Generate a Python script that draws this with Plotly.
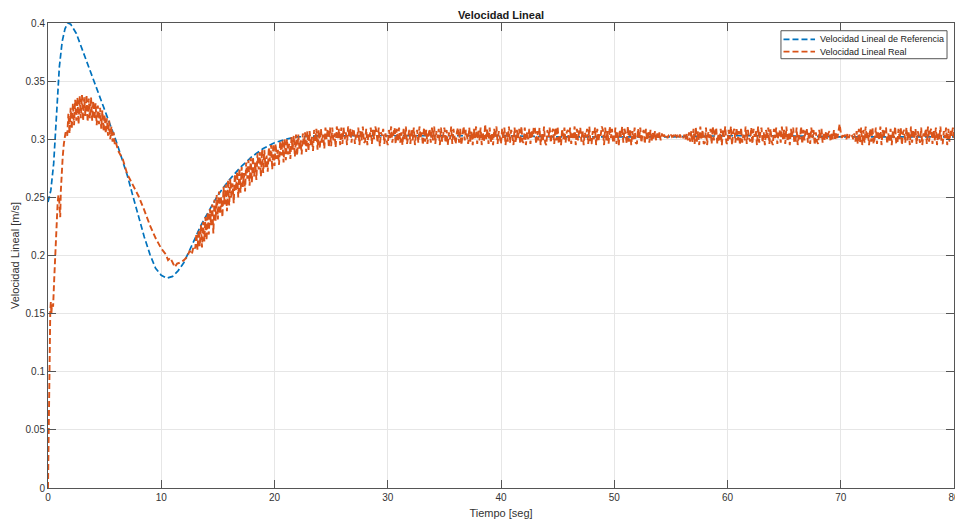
import numpy as np
import plotly.graph_objects as go

# ---------------- data ----------------
# Reference linear velocity (m/s) vs time (s)
ref_t = [0, 0.25, 0.5, 0.75, 1.0, 1.25, 1.5, 1.75, 2.0, 2.5, 3.0, 3.5, 4.0, 4.5,
         5.0, 5.5, 6.0, 6.5, 7.0, 7.5, 8.0, 8.5, 9.0, 9.5, 10.0, 10.5, 11.0,
         11.5, 12.0, 12.5, 13.0, 13.5, 14.0, 14.5, 15.0, 16.0, 17.0, 18.0,
         19.0, 20.0, 21.0, 22.0, 24.0, 26.0, 30.0, 35.0, 40.0, 45.0, 50.0,
         55.0, 60.0, 65.0, 70.0, 75.0, 80.0]
ref_v = [0.246, 0.256, 0.279, 0.322, 0.362, 0.384, 0.395, 0.400, 0.399, 0.391,
         0.378, 0.365, 0.352, 0.339, 0.326, 0.313, 0.299, 0.284, 0.269, 0.251,
         0.233, 0.216, 0.201, 0.189, 0.183, 0.1805, 0.182, 0.187, 0.194, 0.204,
         0.215, 0.226, 0.235, 0.244, 0.252, 0.265, 0.276, 0.285, 0.292, 0.297,
         0.300, 0.302, 0.303, 0.303, 0.303, 0.303, 0.303, 0.302, 0.302, 0.302,
         0.303, 0.303, 0.302, 0.302, 0.302]

# Measured velocity: start-up transient
real_t_start = [0, 0.05, 0.1, 0.15, 0.2, 0.25, 0.3, 0.35, 0.45, 0.55, 0.65,
                0.75, 0.85, 0.92, 0.98, 1.03, 1.08, 1.13, 1.2, 1.3, 1.4, 1.55]
real_v_start = [0.0, 0.050, 0.100, 0.145, 0.152, 0.160, 0.150, 0.158, 0.156,
                0.180, 0.205, 0.225, 0.245, 0.252, 0.250, 0.240, 0.233, 0.255,
                0.272, 0.285, 0.296, 0.306]

# Measured velocity: ripple around the first peak, sampled every 0.1 s from 1.7 s
ripple1_start = 1.7
ripple1_step = 0.1
ripple1_v = [0.303, 0.322, 0.305, 0.327, 0.309, 0.331, 0.312, 0.334, 0.316, 0.336,
             0.313, 0.337, 0.318, 0.338, 0.316, 0.336, 0.320, 0.338, 0.315, 0.335,
             0.318, 0.336, 0.316, 0.333, 0.317, 0.331, 0.312, 0.329, 0.313, 0.327,
             0.309, 0.325, 0.307, 0.321, 0.305, 0.318, 0.303, 0.316, 0.300, 0.311,
             0.298, 0.306, 0.295, 0.297]

# Measured velocity: smooth descent through the valley
real_t_mid = [6.2, 6.6, 7.0, 7.5, 8.0, 8.5, 9.0, 9.5, 10.0, 10.4, 10.6, 10.8,
              11.0, 11.2, 11.4, 11.7, 12.0, 12.3, 12.5, 12.7, 12.85]
real_v_mid = [0.290, 0.283, 0.270, 0.261, 0.251, 0.239, 0.226, 0.215, 0.206,
              0.201, 0.196, 0.198, 0.194, 0.190, 0.193, 0.194, 0.196, 0.199,
              0.204, 0.201, 0.208]

# Measured velocity: ripple from 13 s to 80 s, sampled every 0.1 s (one row per second)
ripple2_start = 13.0
ripple2_step = 0.1
ripple2_v = [
    0.206, 0.219, 0.205, 0.222, 0.208, 0.226, 0.207, 0.229, 0.212, 0.233,   # 13
    0.213, 0.237, 0.218, 0.240, 0.226, 0.244, 0.219, 0.248, 0.230, 0.252,   # 14
    0.231, 0.255, 0.236, 0.250, 0.233, 0.259, 0.244, 0.261, 0.238, 0.265,   # 15
    0.243, 0.266, 0.249, 0.262, 0.245, 0.270, 0.256, 0.272, 0.250, 0.275,   # 16
    0.254, 0.276, 0.259, 0.271, 0.255, 0.280, 0.266, 0.282, 0.260, 0.284,   # 17
    0.263, 0.285, 0.268, 0.280, 0.265, 0.288, 0.274, 0.289, 0.268, 0.291,   # 18
    0.271, 0.291, 0.276, 0.286, 0.272, 0.293, 0.281, 0.295, 0.274, 0.296,   # 19
    0.277, 0.296, 0.283, 0.291, 0.278, 0.298, 0.286, 0.299, 0.280, 0.300,   # 20
    0.282, 0.300, 0.287, 0.296, 0.283, 0.302, 0.291, 0.303, 0.285, 0.304,   # 21
    0.286, 0.304, 0.292, 0.299, 0.287, 0.305, 0.295, 0.306, 0.289, 0.307,   # 22
    0.290, 0.307, 0.295, 0.302, 0.290, 0.308, 0.298, 0.309, 0.291, 0.308,   # 23
    0.292, 0.309, 0.297, 0.304, 0.292, 0.310, 0.300, 0.309, 0.293, 0.310,   # 24
    0.294, 0.310, 0.299, 0.305, 0.293, 0.311, 0.301, 0.309, 0.295, 0.310,   # 25
    0.296, 0.310, 0.300, 0.306, 0.295, 0.311, 0.302, 0.309, 0.297, 0.308,   # 26
    0.309, 0.296, 0.304, 0.301, 0.310, 0.295, 0.307, 0.299, 0.311, 0.297,   # 27
    0.298, 0.309, 0.295, 0.305, 0.302, 0.310, 0.296, 0.308, 0.300, 0.311,   # 28
    0.307, 0.297, 0.310, 0.294, 0.306, 0.303, 0.309, 0.296, 0.305, 0.299,   # 29
    0.295, 0.308, 0.301, 0.311, 0.297, 0.304, 0.310, 0.296, 0.309, 0.298,   # 30
    0.310, 0.297, 0.306, 0.295, 0.309, 0.300, 0.311, 0.296, 0.303, 0.308,   # 31
    0.296, 0.309, 0.299, 0.310, 0.295, 0.305, 0.308, 0.297, 0.311, 0.301,   # 32
    0.306, 0.295, 0.310, 0.298, 0.308, 0.296, 0.304, 0.309, 0.297, 0.310,   # 33
    0.299, 0.311, 0.296, 0.307, 0.301, 0.309, 0.295, 0.310, 0.298, 0.305,   # 34
    0.310, 0.297, 0.308, 0.295, 0.306, 0.300, 0.311, 0.296, 0.309, 0.302,   # 35
    0.296, 0.306, 0.310, 0.297, 0.309, 0.295, 0.304, 0.311, 0.299, 0.308,   # 36
    0.303, 0.296, 0.310, 0.298, 0.307, 0.295, 0.309, 0.301, 0.311, 0.296,   # 37
    0.308, 0.299, 0.310, 0.295, 0.306, 0.298, 0.313, 0.300, 0.309, 0.296,   # 38
    0.310, 0.297, 0.305, 0.295, 0.309, 0.302, 0.311, 0.296, 0.307, 0.299,   # 39
    0.296, 0.309, 0.300, 0.310, 0.295, 0.306, 0.298, 0.311, 0.297, 0.308,   # 40
    0.304, 0.295, 0.310, 0.297, 0.308, 0.301, 0.309, 0.296, 0.311, 0.298,   # 41
    0.297, 0.310, 0.295, 0.306, 0.300, 0.309, 0.296, 0.308, 0.302, 0.311,   # 42
    0.309, 0.296, 0.307, 0.299, 0.310, 0.295, 0.305, 0.298, 0.311, 0.297,   # 43
    0.295, 0.308, 0.302, 0.310, 0.297, 0.306, 0.309, 0.296, 0.310, 0.299,   # 44
    0.311, 0.296, 0.304, 0.295, 0.309, 0.300, 0.310, 0.297, 0.306, 0.308,   # 45
    0.297, 0.310, 0.296, 0.305, 0.301, 0.311, 0.295, 0.309, 0.299, 0.307,   # 46
    0.310, 0.298, 0.308, 0.295, 0.306, 0.302, 0.309, 0.296, 0.311, 0.297,   # 47
    0.296, 0.307, 0.300, 0.310, 0.295, 0.309, 0.298, 0.305, 0.303, 0.311,   # 48
    0.308, 0.295, 0.310, 0.299, 0.307, 0.296, 0.311, 0.301, 0.309, 0.297,   # 49
    0.299, 0.310, 0.296, 0.306, 0.295, 0.308, 0.302, 0.311, 0.297, 0.309,   # 50
    0.305, 0.296, 0.311, 0.298, 0.309, 0.295, 0.307, 0.300, 0.310, 0.297,   # 51
    0.296, 0.309, 0.301, 0.310, 0.297, 0.305, 0.308, 0.296, 0.309, 0.299,   # 52
    0.307, 0.297, 0.308, 0.298, 0.306, 0.300, 0.307, 0.299, 0.305, 0.301,   # 53
    0.306, 0.299, 0.305, 0.301, 0.304, 0.302, 0.304, 0.301, 0.303, 0.302,   # 54
    0.304, 0.302, 0.303, 0.301, 0.304, 0.302, 0.303, 0.301, 0.304, 0.302,   # 55
    0.303, 0.301, 0.304, 0.300, 0.305, 0.299, 0.306, 0.298, 0.307, 0.297,   # 56
    0.309, 0.296, 0.310, 0.298, 0.307, 0.295, 0.311, 0.300, 0.308, 0.296,   # 57
    0.297, 0.310, 0.295, 0.306, 0.301, 0.309, 0.296, 0.311, 0.299, 0.307,   # 58
    0.310, 0.296, 0.305, 0.298, 0.309, 0.295, 0.308, 0.302, 0.311, 0.297,   # 59
    0.296, 0.308, 0.300, 0.311, 0.295, 0.306, 0.309, 0.297, 0.310, 0.299,   # 60
    0.307, 0.295, 0.310, 0.297, 0.304, 0.299, 0.311, 0.296, 0.308, 0.301,   # 61
    0.298, 0.310, 0.296, 0.309, 0.302, 0.307, 0.295, 0.311, 0.297, 0.306,   # 62
    0.310, 0.297, 0.306, 0.295, 0.308, 0.301, 0.310, 0.296, 0.309, 0.298,   # 63
    0.295, 0.309, 0.301, 0.310, 0.296, 0.305, 0.308, 0.297, 0.311, 0.300,   # 64
    0.308, 0.296, 0.311, 0.298, 0.306, 0.295, 0.309, 0.302, 0.310, 0.297,   # 65
    0.297, 0.310, 0.295, 0.305, 0.300, 0.311, 0.296, 0.308, 0.299, 0.309,   # 66
    0.309, 0.297, 0.307, 0.296, 0.310, 0.301, 0.308, 0.295, 0.306, 0.298,   # 67
    0.296, 0.308, 0.301, 0.309, 0.297, 0.306, 0.299, 0.307, 0.300, 0.305,   # 68
    0.307, 0.298, 0.306, 0.300, 0.308, 0.299, 0.305, 0.301, 0.309, 0.313,   # 69
    0.306, 0.301, 0.305, 0.302, 0.304, 0.300, 0.305, 0.301, 0.304, 0.302,   # 70
    0.303, 0.300, 0.305, 0.298, 0.307, 0.296, 0.309, 0.297, 0.310, 0.295,   # 71
    0.308, 0.297, 0.311, 0.300, 0.306, 0.295, 0.309, 0.298, 0.310, 0.296,   # 72
    0.301, 0.310, 0.296, 0.307, 0.299, 0.311, 0.295, 0.308, 0.302, 0.309,   # 73
    0.310, 0.296, 0.305, 0.298, 0.309, 0.295, 0.307, 0.301, 0.311, 0.297,   # 74
    0.296, 0.309, 0.300, 0.310, 0.295, 0.306, 0.308, 0.297, 0.310, 0.299,   # 75
    0.306, 0.295, 0.311, 0.297, 0.308, 0.300, 0.309, 0.296, 0.307, 0.302,   # 76
    0.297, 0.310, 0.295, 0.305, 0.301, 0.309, 0.296, 0.311, 0.298, 0.307,   # 77
    0.309, 0.296, 0.308, 0.299, 0.310, 0.295, 0.306, 0.300, 0.311, 0.297,   # 78
    0.296, 0.307, 0.301, 0.310, 0.295, 0.309, 0.298, 0.308, 0.303, 0.310,   # 79
    0.300,                                                                   # 80
]

x_ticks = [0, 10, 20, 30, 40, 50, 60, 70, 80]
x_tick_labels = ["0", "10", "20", "30", "40", "50", "60", "70", "80"]
y_ticks = [0, 0.05, 0.1, 0.15, 0.2, 0.25, 0.3, 0.35, 0.4]
y_tick_labels = ["0", "0.05", "0.1", "0.15", "0.2", "0.25", "0.3", "0.35", "0.4"]

series_names = ["Velocidad Lineal de Referencia", "Velocidad Lineal Real"]

# ---------------- assemble measured series ----------------
ripple1_t = ripple1_start + ripple1_step * np.arange(len(ripple1_v))
ripple2_t = ripple2_start + ripple2_step * np.arange(len(ripple2_v))
real_t = np.concatenate([real_t_start, ripple1_t, real_t_mid, ripple2_t])
real_v = np.concatenate([real_v_start, ripple1_v, real_v_mid, ripple2_v])

# ---------------- styling ----------------
BLUE = "#0072BD"
ORANGE = "#D95319"
AXIS = "#555555"
TEXT = "#333333"
GRID = "#e6e6e6"
DASH = "6px,3px"
FONT = "Liberation Sans, Arial, Helvetica, sans-serif"

fig = go.Figure()
fig.add_trace(go.Scatter(x=ref_t, y=ref_v, mode="lines", name=series_names[0],
                         line=dict(color=BLUE, width=1.7, dash=DASH)))
fig.add_trace(go.Scatter(x=real_t, y=real_v, mode="lines", name=series_names[1],
                         line=dict(color=ORANGE, width=1.9, dash=DASH)))

axis_common = dict(
    showline=True, linecolor=AXIS, linewidth=1, mirror="ticks",
    ticks="inside", ticklen=8, tickcolor=AXIS, tickwidth=1,
    showgrid=True, gridcolor=GRID, gridwidth=1, zeroline=False,
    automargin=False,
    tickfont=dict(size=10, color=TEXT, family=FONT),
)

fig.update_xaxes(range=[0, 80], tickvals=x_ticks, ticktext=x_tick_labels,
                 ticklabeloverflow="allow",
                 title=dict(text="Tiempo [seg]", font=dict(size=11, color=TEXT, family=FONT),
                            standoff=7),
                 **axis_common)
fig.update_yaxes(range=[0, 0.4], tickvals=y_ticks, ticktext=y_tick_labels,
                 title=dict(text="Velocidad Lineal [m/s]",
                            font=dict(size=11, color=TEXT, family=FONT), standoff=3),
                 **axis_common)

# Legend box drawn in the upper-right corner of the axes
leg_x0, leg_x1 = 0.809, 0.9923
leg_y0, leg_y1 = 0.9232, 0.9834
row_y = [0.9650, 0.9383]
sample_x0, sample_x1 = 0.8118, 0.8466
text_x = 0.8494
shapes = [dict(type="rect", xref="paper", yref="paper", x0=leg_x0, x1=leg_x1,
               y0=leg_y0, y1=leg_y1, fillcolor="white",
               line=dict(color=AXIS, width=1), layer="above")]
annotations = []
for name, color, yy in zip(series_names, [BLUE, ORANGE], row_y):
    shapes.append(dict(type="line", xref="paper", yref="paper", x0=sample_x0,
                       x1=sample_x1, y0=yy, y1=yy, layer="above",
                       line=dict(color=color, width=1.7, dash=DASH)))
    annotations.append(dict(text=name, xref="paper", yref="paper", x=text_x, y=yy,
                            xanchor="left", yanchor="middle", showarrow=False,
                            font=dict(size=9, color="#222222", family=FONT)))

fig.update_layout(
    width=955, height=522,
    margin=dict(l=48, r=1, t=23, b=34, autoexpand=False),
    paper_bgcolor="white", plot_bgcolor="white",
    showlegend=False,
    font=dict(family=FONT, color=TEXT),
    title=dict(text="<b>Velocidad Lineal</b>", x=0.5, xref="paper",
               y=1 - 15 / 522, yref="container", yanchor="middle", xanchor="center",
               font=dict(size=11, color="#1a1a1a", family=FONT)),
    shapes=shapes,
    annotations=annotations,
)

fig.write_html("out.html")
